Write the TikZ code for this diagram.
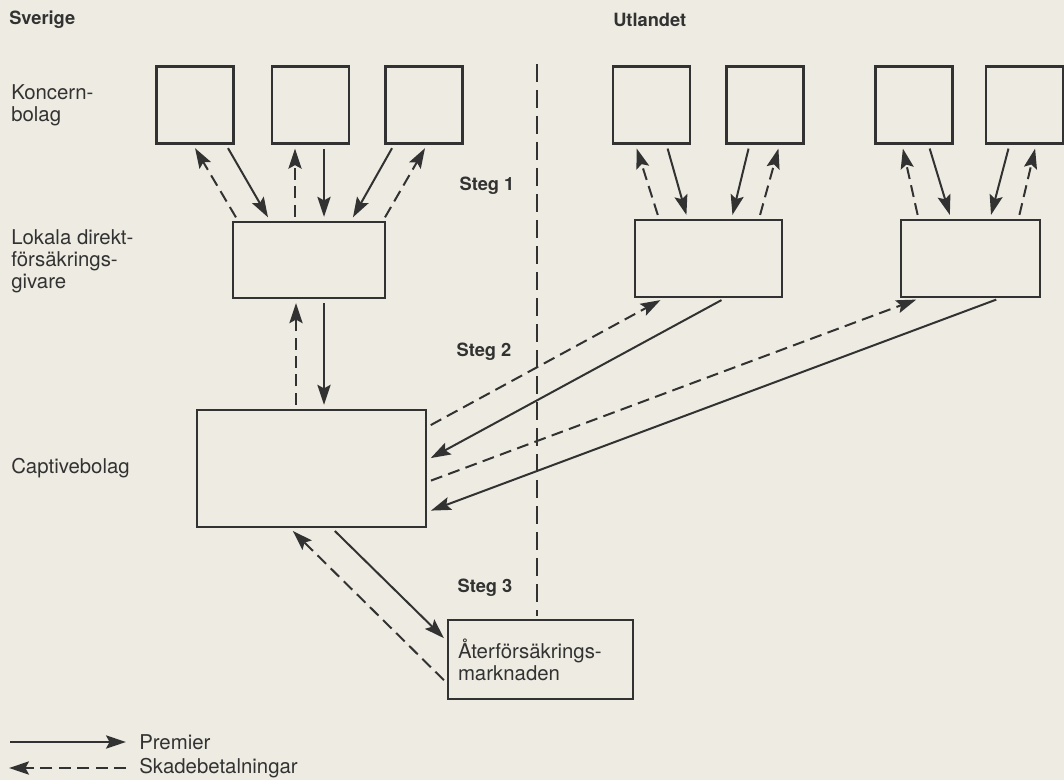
\documentclass[tikz,border=0pt]{standalone}
\usepackage{fontspec}
\setmainfont{TeX Gyre Heros}
\usepackage{xcolor}
\usetikzlibrary{arrows.meta,calc}
\definecolor{paper}{RGB}{238,236,226}
\definecolor{ink}{RGB}{50,50,50}

\begin{document}
\begin{tikzpicture}[x=0.25mm,y=-0.25mm,
    box/.style={draw=ink,line width=0.6mm,inner sep=0pt},
    kbox/.style={box,minimum width=19.25mm,minimum height=19.25mm},
    prem/.style={draw=ink,line width=0.5mm,-{Stealth[length=5mm,width=3.3mm,inset=0.9mm]},shorten <=1mm,shorten >=1mm},
    skad/.style={prem,dash pattern=on 3mm off 1.6mm},
    lbl/.style={font=\fontsize{14.5}{15.5}\selectfont,align=left,anchor=west,inner sep=0pt,text=ink},
    rubrik/.style={font=\fontsize{13}{15}\selectfont\bfseries,inner sep=0pt,text=ink}]
    \fill[paper] (0,0) rectangle (1064,780);
    \useasboundingbox (0,0) rectangle (1064,780);

    \node[rubrik,anchor=west] (sve) at (9,20) {Sverige};
    \node[rubrik,anchor=west] (utl) at (613,20) {Utlandet};
    \node[lbl] (kon) at (11,105.5) {Koncern-\\bolag};
    \node[lbl] (lokt) at (11,261.5) {Lokala direkt-\\försäkrings-\\givare};
    \node[lbl] (capl) at (11,468) {Captivebolag};

    \foreach \n/\x in {k1/195,k2/310.5,k3/424,k4/651.5,k5/765,k6/914,k7/1024.5}
        \node[kbox] (\n) at (\x,105) {};

    \node[box,minimum width=38mm,minimum height=19mm] (lok) at (309,260) {};
    \node[box,minimum width=36.75mm,minimum height=19.25mm] (lokA) at (708.5,258.5) {};
    \node[box,minimum width=34.75mm,minimum height=19.25mm] (lokB) at (970.5,258.5) {};
    \node[box,minimum width=57.25mm,minimum height=29.25mm] (capt) at (311.5,468.5) {};
    \node[box,lbl,anchor=center,inner xsep=2.5mm,text width=41.25mm,minimum height=19.75mm] (ater) at (540.5,659.5) {Återförsäkrings-\\marknaden};

    \node[rubrik] (s1) at (487,186) {Steg 1};
    \node[rubrik] (s2) at (484,352) {Steg 2};
    \node[rubrik] (s3) at (485,588) {Steg 3};

    \coordinate (gtop) at (537,64);
    \coordinate (gbot) at (537,616);
    \draw[ink,line width=0.5mm,dash pattern=on 4.5mm off 2mm] (gtop) -- (gbot);

    \draw[skad] ($(lok.north)+(-71,0)$) -- ($(k1.south)+(-2,0)$);
    \draw[prem] ($(k1.south)+(31,0)$) -- ($(lok.north)+(-39,0)$);
    \draw[skad] ($(lok.north)+(-14,0)$) -- ($(k2.south)+(-15.5,0)$);
    \draw[prem] ($(k2.south)+(13.5,0)$) -- ($(lok.north)+(15,0)$);
    \draw[prem] ($(k3.south)+(-30,0)$) -- ($(lok.north)+(42,0)$);
    \draw[skad] ($(lok.north)+(74,0)$) -- ($(k3.south)+(3,0)$);

    \draw[skad] ($(lokA.north)+(-49.5,0)$) -- ($(k4.south)+(-16,0)$);
    \draw[prem] ($(k4.south)+(15,0)$) -- ($(lokA.north)+(-21,0)$);
    \draw[prem] ($(k5.south)+(-15.5,0)$) -- ($(lokA.north)+(23,0)$);
    \draw[skad] ($(lokA.north)+(50.5,0)$) -- ($(k5.south)+(14.5,0)$);

    \draw[skad] ($(lokB.north)+(-52,0)$) -- ($(k6.south)+(-12,0)$);
    \draw[prem] ($(k6.south)+(14.5,0)$) -- ($(lokB.north)+(-19.5,0)$);
    \draw[prem] ($(k7.south)+(-15,0)$) -- ($(lokB.north)+(19.5,0)$);
    \draw[skad] ($(lokB.north)+(48,0)$) -- ($(k7.south)+(11.5,0)$);

    \draw[skad] ($(capt.north)+(-15.5,0)$) -- ($(lok.south)+(-13,0)$);
    \draw[prem] ($(lok.south)+(15,0)$) -- ($(capt.north)+(12.5,0)$);

    \draw[skad] ($(capt.east)+(0,-41.5)$) -- ($(lokA.south)+(-44.5,0)$);
    \draw[prem] ($(lokA.south)+(16.5,0)$) -- ($(capt.east)+(0,-8.5)$);
    \draw[skad] ($(capt.east)+(0,13.5)$) -- ($(lokB.south)+(-50.5,0)$);
    \draw[prem] ($(lokB.south)+(29.5,0)$) -- ($(capt.east)+(0,43.5)$);

    \draw[skad] ($(ater.west)+(0,23.5)$) -- ($(capt.south)+(-21.5,0)$);
    \draw[prem] ($(capt.south)+(20.5,0)$) -- ($(ater.west)+(0,-18.5)$);

    \coordinate (l1a) at (10,742);
    \coordinate (l1b) at (126,742);
    \draw[prem,shorten <=0mm,shorten >=0mm] (l1a) -- (l1b);
    \node[lbl] (prl) at (139,742) {Premier};
    \coordinate (l2a) at (126,768);
    \coordinate (l2b) at (9,768);
    \draw[skad,shorten <=0mm,shorten >=0mm] (l2a) -- (l2b);
    \node[lbl] (skl) at (139,768) {Skadebetalningar};
\end{tikzpicture}
\end{document}
